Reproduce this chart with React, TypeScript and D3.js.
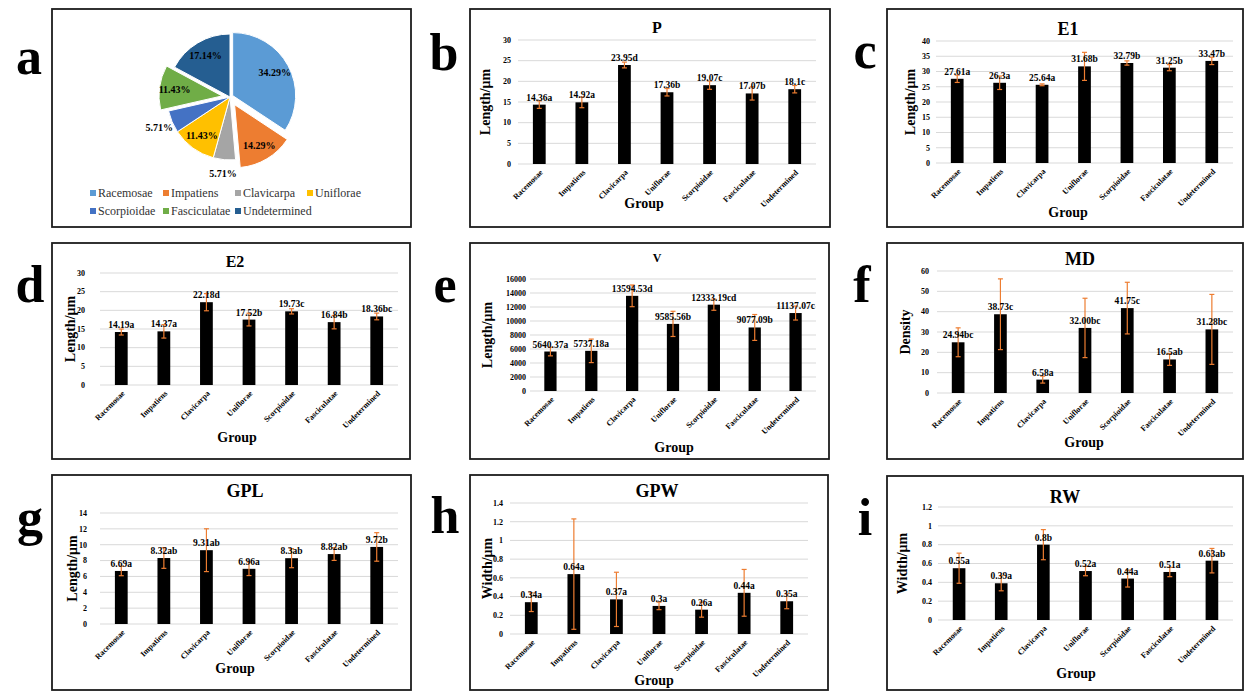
import React from "react";
import * as d3 from "d3";

const groups = ["Racemosae", "Impatiens", "Clavicarpa", "Uniflorae", "Scorpioidae", "Fasciculatae", "Undetermined"];

// panel a: share of each group
const pieShares = [34.29, 14.29, 5.71, 11.43, 5.71, 11.43, 17.14];
const pieColors = ["#5B9BD5", "#ED7D31", "#A5A5A5", "#FFC000", "#4472C4", "#70AD47", "#255E91"];

// b - P
const pValues = [14.36, 14.92, 23.95, 17.36, 19.07, 17.07, 18.1];
const pErrors = [0.9, 1.3, 0.7, 0.9, 1.0, 1.6, 0.9];
const pLabels = ["14.36a", "14.92a", "23.95d", "17.36b", "19.07c", "17.07b", "18.1c"];

// c - E1
const e1Values = [27.61, 26.3, 25.64, 31.68, 32.79, 31.25, 33.47];
const e1Errors = [1.2, 2.2, 0.3, 4.6, 0.7, 1.0, 1.2];
const e1Labels = ["27.61a", "26.3a", "25.64a", "31.68b", "32.79b", "31.25b", "33.47b"];

// d - E2
const e2Values = [14.19, 14.37, 22.18, 17.52, 19.73, 16.84, 18.36];
const e2Errors = [0.8, 1.8, 2.3, 1.7, 0.7, 1.8, 0.9];
const e2Labels = ["14.19a", "14.37a", "22.18d", "17.52b", "19.73c", "16.84b", "18.36bc"];

// e - V
const vValues = [5640.37, 5737.18, 13594.53, 9585.56, 12333.19, 9077.09, 11137.07];
const vErrors = [620, 1680, 1550, 1800, 800, 1850, 1000];
const vLabels = ["5640.37a", "5737.18a", "13594.53d", "9585.56b", "12333.19cd", "9077.09b", "11137.07c"];

// f - MD
const mdValues = [24.94, 38.73, 6.58, 32.0, 41.75, 16.5, 31.28];
const mdErrors = [7.1, 17.4, 1.7, 14.6, 12.7, 2.9, 17.2];
const mdLabels = ["24.94bc", "38.73c", "6.58a", "32.00bc", "41.75c", "16.5ab", "31.28bc"];

// g - GPL
const gplValues = [6.69, 8.32, 9.31, 6.96, 8.3, 8.82, 9.72];
const gplErrors = [0.6, 1.3, 2.7, 0.85, 1.2, 0.8, 1.8];
const gplLabels = ["6.69a", "8.32ab", "9.31ab", "6.96a", "8.3ab", "8.82ab", "9.72b"];

// h - GPW
const gpwValues = [0.34, 0.64, 0.37, 0.3, 0.26, 0.44, 0.35];
const gpwErrors = [0.1, 0.59, 0.29, 0.04, 0.08, 0.25, 0.08];
const gpwLabels = ["0.34a", "0.64a", "0.37a", "0.3a", "0.26a", "0.44a", "0.35a"];

// i - RW
const rwValues = [0.55, 0.39, 0.8, 0.52, 0.44, 0.51, 0.63];
const rwErrors = [0.16, 0.08, 0.16, 0.05, 0.09, 0.05, 0.13];
const rwLabels = ["0.55a", "0.39a", "0.8b", "0.52a", "0.44a", "0.51a", "0.63ab"];

const serif = "'Liberation Serif', 'Times New Roman', serif";

const panels = [
  { letter: "b", lx: 444, ly: 70, title: "P", titleSize: 16, box: [470, 9, 830, 227], x0: 518, x1: 816, yTop: 40, yBot: 164, titleX: 657, titleY: 33, tickX: 511, yTitleX: 485, groupX: 644, groupY: 208, max: 30, step: 5, yTitle: "Length/μm", values: pValues, errors: pErrors, labels: pLabels },
  { letter: "c", lx: 865, ly: 68, title: "E1", titleSize: 18, box: [887, 9, 1243, 227], x0: 936, x1: 1233, yTop: 41, yBot: 163, titleX: 1068, titleY: 35, tickX: 930, yTitleX: 910, groupX: 1068, groupY: 217, max: 40, step: 5, yTitle: "Length/μm", values: e1Values, errors: e1Errors, labels: e1Labels },
  { letter: "d", lx: 30, ly: 302, title: "E2", titleSize: 16, box: [52, 243, 410, 459], x0: 100, x1: 398, yTop: 273, yBot: 385, titleX: 235, titleY: 267, tickX: 85, yTitleX: 70, groupX: 237, groupY: 442, max: 30, step: 5, yTitle: "Length/μm", values: e2Values, errors: e2Errors, labels: e2Labels },
  { letter: "e", lx: 445, ly: 302, title: "V", titleSize: 12, box: [470, 243, 829, 459], x0: 530, x1: 816, yTop: 279, yBot: 391, titleX: 657, titleY: 262, tickX: 526, yTitleX: 487, groupX: 674, groupY: 452, max: 16000, step: 2000, yTitle: "Length/μm", values: vValues, errors: vErrors, labels: vLabels },
  { letter: "f", lx: 862, ly: 302, title: "MD", titleSize: 18, box: [887, 243, 1243, 459], x0: 937, x1: 1233, yTop: 271, yBot: 393, titleX: 1080, titleY: 265, tickX: 929, yTitleX: 905, groupX: 1084, groupY: 447, max: 60, step: 10, yTitle: "Density", values: mdValues, errors: mdErrors, labels: mdLabels },
  { letter: "g", lx: 30, ly: 535, title: "GPL", titleSize: 18, box: [52, 475, 411, 690], x0: 100, x1: 398, yTop: 513, yBot: 624, titleX: 245, titleY: 497, tickX: 87, yTitleX: 72, groupX: 235, groupY: 673, max: 14, step: 2, yTitle: "Length/μm", values: gplValues, errors: gplErrors, labels: gplLabels },
  { letter: "h", lx: 445, ly: 533, title: "GPW", titleSize: 18, box: [470, 475, 828, 690], x0: 510, x1: 808, yTop: 503, yBot: 634, titleX: 657, titleY: 497, tickX: 503, yTitleX: 487, groupX: 654, groupY: 685, max: 1.4, step: 0.2, yTitle: "Width/μm", values: gpwValues, errors: gpwErrors, labels: gpwLabels },
  { letter: "i", lx: 865, ly: 535, title: "RW", titleSize: 18, box: [887, 476, 1243, 690], x0: 938, x1: 1233, yTop: 507, yBot: 620, titleX: 1065, titleY: 503, tickX: 932, yTitleX: 902, groupX: 1076, groupY: 678, max: 1.2, step: 0.2, yTitle: "Width/μm", values: rwValues, errors: rwErrors, labels: rwLabels },
];

const fmt = d3.format("~g");

function Frame({ box }) {
  const [x0, y0, x1, y1] = box;
  return <rect x={x0} y={y0} width={x1 - x0} height={y1 - y0} fill="#fff" stroke="#1c1c1c" strokeWidth={1.8} />;
}

function BigLetter({ x, y, t }) {
  return (
    <text x={x} y={y} textAnchor="middle" fontSize={52} fontWeight="bold" fontFamily={serif}>
      {t}
    </text>
  );
}

function BarPanel({ p }) {
  const x = d3.scaleBand().domain(groups).range([p.x0, p.x1]).paddingInner(0.7).paddingOuter(0.35);
  const y = d3.scaleLinear().domain([0, p.max]).range([p.yBot, p.yTop]);
  const ticks = d3.range(0, p.max + p.step / 2, p.step);
  const bw = x.bandwidth();
  return (
    <g fontFamily={serif} fontWeight="bold">
      <Frame box={p.box} />
      <BigLetter x={p.lx} y={p.ly} t={p.letter} />
      <text x={p.titleX} y={p.titleY} textAnchor="middle" fontSize={p.titleSize}>{p.title}</text>
      {ticks.map((t) => (
        <g key={t}>
          <line x1={p.x0} x2={p.x1} y1={y(t)} y2={y(t)} stroke="#d9d9d9" strokeWidth={1} />
          <text x={p.tickX} y={y(t)} dy="0.35em" textAnchor="end" fontSize={8}>{fmt(t)}</text>
        </g>
      ))}
      {groups.map((g, i) => {
        const cx = x(g) + bw / 2;
        const v = p.values[i];
        const e = p.errors[i];
        const lo = y(Math.max(0, v - e));
        const hi = y(v + e);
        return (
          <g key={g}>
            <rect x={x(g)} y={y(v)} width={bw} height={y(0) - y(v)} fill="#000" />
            <line x1={cx} x2={cx} y1={hi} y2={lo} stroke="#ED7D31" strokeWidth={1.2} />
            <line x1={cx - 2.5} x2={cx + 2.5} y1={hi} y2={hi} stroke="#ED7D31" strokeWidth={1.2} />
            <line x1={cx - 2.5} x2={cx + 2.5} y1={lo} y2={lo} stroke="#ED7D31" strokeWidth={1.2} />
            <text x={cx} y={y(v) - 4} textAnchor="middle" fontSize={9.5}>{p.labels[i]}</text>
            <text
              transform={`translate(${cx + 2},${p.yBot + 7}) rotate(-45)`}
              textAnchor="end"
              dy="0.35em"
              fontSize={8}
            >
              {g}
            </text>
          </g>
        );
      })}
      <text
        transform={`translate(${p.yTitleX},${(p.yTop + p.yBot) / 2}) rotate(-90)`}
        textAnchor="middle"
        dy="0.35em"
        fontSize={14}
      >
        {p.yTitle}
      </text>
      <text x={p.groupX} y={p.groupY} textAnchor="middle" fontSize={14}>Group</text>
    </g>
  );
}

function PiePanel() {
  const cx = 230;
  const cy = 97;
  const r = 63;
  const explode = [3, 9, 0, 0, 0, 8, 0];
  const arcs = d3.pie<number>().sort(null).value((d) => d)(pieShares);
  const arc = d3.arc<d3.PieArcDatum<number>>().innerRadius(0).outerRadius(r);
  const legendX = [90, 163, 235, 307];
  return (
    <g fontFamily={serif}>
      <Frame box={[52, 9, 411, 227]} />
      <BigLetter x={29} y={74} t="a" />
      <g transform={`translate(${cx},${cy})`}>
        {arcs.map((a, i) => {
          const mid = (a.startAngle + a.endAngle) / 2;
          const dx = Math.sin(mid) * explode[i];
          const dy = -Math.cos(mid) * explode[i];
          const lr = pieShares[i] < 10 ? r * 1.22 : r * 0.76;
          const lx = Math.sin(mid) * (lr + explode[i]);
          const ly = -Math.cos(mid) * (lr + explode[i]);
          return (
            <g key={i}>
              <path d={arc(a)} transform={`translate(${dx},${dy})`} fill={pieColors[i]} stroke="#fff" strokeWidth={1} />
              <text x={lx} y={ly} dy="0.35em" textAnchor="middle" fontSize={10} fontWeight="bold">
                {pieShares[i].toFixed(2)}%
              </text>
            </g>
          );
        })}
      </g>
      {groups.map((g, i) => {
        const lx = legendX[i % 4];
        const ly = i < 4 ? 193 : 211;
        return (
          <g key={g}>
            <rect x={lx} y={ly - 3} width={6} height={6} fill={pieColors[i]} />
            <text x={lx + 8} y={ly} dy="0.35em" fontSize={12} fill="#333">{g}</text>
          </g>
        );
      })}
    </g>
  );
}

export default function App() {
  return (
    <div style={{ position: "absolute", left: 0, top: 0 }}>
      <svg width={1244} height={691} style={{ display: "block", background: "#fff" }}>
        <PiePanel />
        {panels.map((p) => (
          <BarPanel key={p.letter} p={p} />
        ))}
      </svg>
    </div>
  );
}
